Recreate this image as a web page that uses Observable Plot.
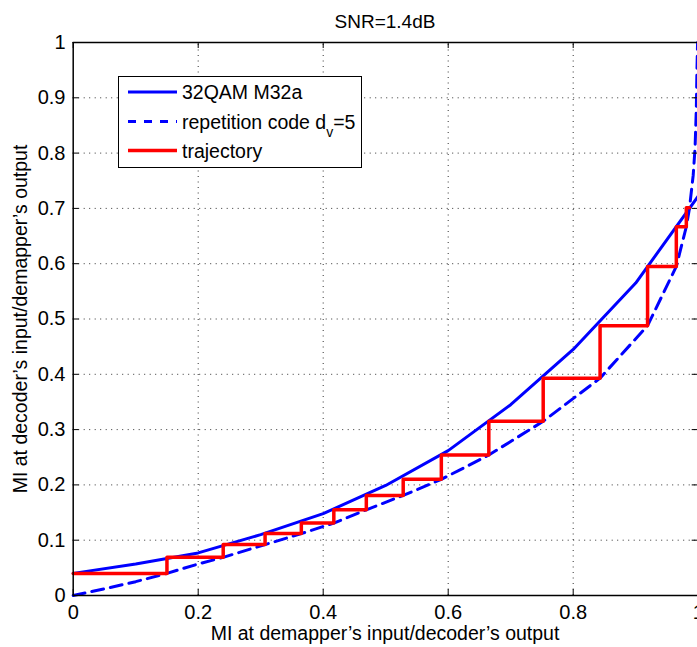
<!DOCTYPE html>
<html><head><meta charset="utf-8">
<script src="https://cdn.jsdelivr.net/npm/d3@7"></script>
<script src="https://cdn.jsdelivr.net/npm/@observablehq/plot@0.6"></script>
<style>html,body{margin:0;padding:0;background:#fff;overflow:hidden;}</style>
</head><body><div id="chart"></div>
<script>
// ---- text ----
const title = "SNR=1.4dB";
const xLabel = "MI at demapper’s input/decoder’s output";
const yLabel = "MI at decoder’s input/demapper’s output";
const legendLabels = ["32QAM M32a", "repetition code d", "trajectory"];
const legendSub = "v";
const legendSubTail = "=5";

// ---- ticks ----
const xTicks = [0, 0.2, 0.4, 0.6, 0.8, 1];
const yTicks = [0, 0.1, 0.2, 0.3, 0.4, 0.5, 0.6, 0.7, 0.8, 0.9, 1];

// ---- series: 32QAM M32a (demapper EXIT curve) ----
const qamX = [0, 0.1, 0.2, 0.3, 0.4, 0.5, 0.6, 0.7, 0.8, 0.9, 1.0];
const qamY = [0.040, 0.057, 0.077, 0.110, 0.148, 0.199, 0.262, 0.345, 0.445, 0.565, 0.722];

// ---- series: repetition code dv=5 (decoder EXIT curve, swapped axes) ----
const repX = [0, 0.05, 0.10, 0.15, 0.20, 0.24, 0.307, 0.365, 0.417, 0.469, 0.528, 0.589, 0.665, 0.752, 0.843, 0.919, 0.965, 0.981, 0.986, 0.992, 0.995, 0.997, 0.998, 0.999];
const repY = [0, 0.012, 0.025, 0.040, 0.057, 0.069, 0.092, 0.112, 0.131, 0.155, 0.181, 0.210, 0.254, 0.315, 0.393, 0.488, 0.595, 0.667, 0.700, 0.760, 0.810, 0.880, 0.950, 1.0];

// ---- series: trajectory (staircase corners) ----
const trajX = [0, 0.15, 0.24, 0.307, 0.365, 0.417, 0.469, 0.528, 0.589, 0.665, 0.752, 0.843, 0.919, 0.965, 0.981, 0.986];
const trajY = [0.040, 0.069, 0.092, 0.112, 0.131, 0.155, 0.181, 0.210, 0.254, 0.315, 0.393, 0.488, 0.595, 0.667, 0.701, 0.701];

const qam = qamX.map((x, i) => ({x, y: qamY[i]}));
const rep = repX.map((x, i) => ({x, y: repY[i]}));
const traj = trajX.map((x, i) => ({x, y: trajY[i]}));

const font = "'Liberation Sans', Arial, Helvetica, sans-serif";
const BLUE = "#0000ff", RED = "#ff0000";
const tx = 6 / 625, ty = 6 / 553; // inward tick length in data units
const grid = {stroke: "#333", strokeWidth: 1, strokeDasharray: "1,4.5"};
const fmt = d => d === 0 ? "0" : d === 1 ? "1" : d.toFixed(1);

const plot = Plot.plot({
  width: 697, height: 647,
  marginLeft: 72, marginRight: 0, marginTop: 42, marginBottom: 52,
  style: {fontFamily: font, fontSize: "20px", background: "white", color: "black", overflow: "visible"},
  x: {domain: [0, 1], range: [72.7, 697.7]},
  y: {domain: [0, 1], range: [595, 42]},
  marks: [
    Plot.ruleX(xTicks.slice(1, -1), {x: d => d, y1: 0, y2: 1, ...grid}),
    Plot.ruleY(yTicks.slice(1, -1), {y: d => d, x1: 0, x2: 1, ...grid}),
    Plot.line(qam, {x: "x", y: "y", stroke: BLUE, strokeWidth: 3}),
    Plot.line(rep, {x: "x", y: "y", stroke: BLUE, strokeWidth: 3, strokeDasharray: "12,7"}),
    Plot.line(traj, {x: "x", y: "y", stroke: RED, strokeWidth: 3.5, curve: "step-after"}),
    Plot.ruleY([0, 1], {y: d => d, x1: 0, x2: 1, stroke: "black", strokeWidth: 1.5}),
    Plot.ruleX([0], {x: d => d, y1: 0, y2: 1, stroke: "black", strokeWidth: 1.5}),
    Plot.ruleX(xTicks, {x: d => d, y1: 0, y2: ty, stroke: "black"}),
    Plot.ruleX(xTicks, {x: d => d, y1: 1, y2: 1 - ty, stroke: "black"}),
    Plot.ruleY(yTicks, {y: d => d, x1: 0, x2: tx, stroke: "black"}),
    Plot.ruleY(yTicks, {y: d => d, x1: 1, x2: 1 - tx, stroke: "black"}),
    Plot.axisX({ticks: xTicks, tickSize: 0, tickPadding: 9, tickFormat: fmt, label: null, fontSize: 20}),
    Plot.axisY({ticks: yTicks, tickSize: 0, tickPadding: 7, tickFormat: fmt, label: null, fontSize: 20}),
    Plot.text([title], {text: d => d, frameAnchor: "top", dy: -21, fontSize: 19, lineAnchor: "middle", textAnchor: "middle"}),
    Plot.text([xLabel], {text: d => d, frameAnchor: "bottom", dy: 38, fontSize: 19.5, lineAnchor: "middle", textAnchor: "middle"}),
    Plot.text([yLabel], {text: d => d, frameAnchor: "left", dx: -52, rotate: -90, fontSize: 19.5, lineAnchor: "middle", textAnchor: "middle"})
  ]
});

// ---- legend ----
const svg = d3.select(plot);
const lg = svg.append("g").attr("font-family", font).attr("font-size", 19.5)
  .attr("fill", "black").attr("text-anchor", "start");
lg.append("rect").attr("x", 118.5).attr("y", 76.5).attr("width", 243).attr("height", 91)
  .attr("fill", "white").attr("stroke", "black").attr("stroke-width", 1);
const rowsY = [92, 121.5, 150.5];
const rowStyles = [
  {stroke: BLUE, width: 3, dash: null},
  {stroke: BLUE, width: 3, dash: "8,8"},
  {stroke: RED, width: 3.5, dash: null}
];
legendLabels.forEach((lab, i) => {
  const y = rowsY[i];
  const ln = lg.append("line").attr("x1", 128).attr("x2", 177).attr("y1", y).attr("y2", y)
    .attr("stroke", rowStyles[i].stroke).attr("stroke-width", rowStyles[i].width);
  if (rowStyles[i].dash) ln.attr("stroke-dasharray", rowStyles[i].dash);
  const t = lg.append("text").attr("x", 182).attr("y", y + 7).attr("text-anchor", "start").text(lab);
  if (i === 1) {
    t.append("tspan").attr("font-size", 14).attr("dy", 8).text(legendSub);
    t.append("tspan").attr("font-size", 19.5).attr("dy", -8).text(legendSubTail);
  }
});

document.getElementById("chart").appendChild(plot);
</script>
</body></html>
